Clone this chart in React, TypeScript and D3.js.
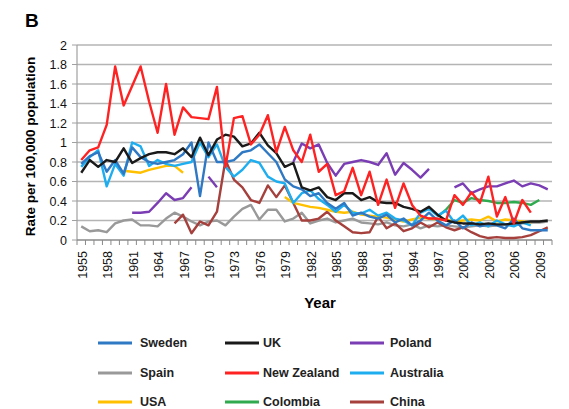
import { useEffect, useRef } from 'react';
import * as d3 from 'd3';

// one value per year, 1955..2010 (null = no data)
const years = d3.range(1955, 2011);
const xTickLabels = ['1955', '1958', '1961', '1964', '1967', '1970', '1973', '1976', '1979', '1982', '1985', '1988', '1991', '1994', '1997', '2000', '2003', '2006', '2009'];
const yTicks = [0, 0.2, 0.4, 0.6, 0.8, 1, 1.2, 1.4, 1.6, 1.8, 2];

const sweden = [
  0.78, 0.86, 0.9, 0.7, 0.82, 0.68, 0.95, 0.85, 0.8, 0.78,
  0.8, 0.82, 0.88, 1.0, 0.45, 1.0, 0.8, 0.8, 0.82, 0.9,
  0.92, 0.98, 0.89, 0.8, 0.62, 0.55, 0.52, 0.45, 0.48, 0.38,
  0.32, 0.38, 0.25, 0.28, 0.24, 0.22, 0.26, 0.18, 0.22, 0.15,
  0.2, 0.28, 0.2, 0.15, 0.2, 0.12, 0.18, 0.14, 0.16, 0.15,
  0.12, 0.22, 0.12, 0.1, 0.1, 0.1,
];
const uk = [
  0.69, 0.82, 0.75, 0.82, 0.8, 0.94, 0.79, 0.84, 0.88, 0.9,
  0.9, 0.88, 0.94, 0.85, 1.05, 0.87, 1.03, 1.08, 1.06, 0.96,
  0.99, 1.1, 0.97, 0.89, 0.75, 0.79, 0.54, 0.51, 0.54, 0.44,
  0.41, 0.48, 0.48, 0.41, 0.44, 0.39, 0.38, 0.38, 0.34, 0.32,
  0.29, 0.34, 0.26, 0.2, 0.18, 0.17, 0.17, 0.16, 0.17, 0.16,
  0.16, 0.17, 0.18, 0.19, 0.19, 0.2,
];
const poland = [
  null, null, null, null, null, null, 0.28, 0.28, 0.29, 0.38,
  0.48, 0.41, 0.43, 0.54, null, 0.65, 0.54, null, null, null,
  null, null, null, null, null, 0.8, 0.99, 0.94, 0.98, 0.79,
  0.66, 0.78, 0.8, 0.82, 0.8, 0.77, 0.89, 0.67, 0.79, 0.72,
  0.64, 0.73, null, null, 0.54, 0.58, 0.48, 0.52, 0.55, 0.55,
  0.58, 0.61, 0.55, 0.58, 0.56, 0.52,
];
const spain = [
  0.14, 0.09, 0.1, 0.08, 0.17, 0.2, 0.21, 0.15, 0.15, 0.14,
  0.22, 0.28, 0.24, 0.19, 0.15, 0.19, 0.2, 0.15, 0.24, 0.32,
  0.36, 0.21, 0.31, 0.31, 0.19, 0.22, 0.28, 0.17, 0.2, 0.22,
  0.18, 0.2, 0.22, 0.18, 0.17, 0.16, 0.18, 0.15, 0.14, 0.16,
  0.12, 0.15, 0.14, 0.15, 0.14, 0.13, 0.14, 0.15, 0.14, 0.15,
  0.16, 0.15, 0.17, 0.18, 0.18, 0.19,
];
const newZealand = [
  0.82, 0.92, 0.95, 1.18, 1.78, 1.38, 1.58, 1.78, 1.42, 1.1,
  1.6, 1.08, 1.36, 1.26, 1.25, 1.24, 1.57, 0.75, 1.25, 1.27,
  0.98, 1.08, 1.28, 0.9, 1.16, 0.92, 0.8, 1.08, 0.7, 0.78,
  0.46, 0.5, 0.74, 0.46, 0.7, 0.36, 0.62, 0.33, 0.58, 0.36,
  0.25, 0.22, 0.22, 0.2, 0.46, 0.36, 0.49, 0.38, 0.65, 0.24,
  0.44, 0.17, 0.41, 0.28, null, null,
];
const australia = [
  0.75, 0.85, 0.92, 0.55, 0.78, 0.66, 1.0, 0.96, 0.76, 0.82,
  0.78, 0.76, 0.78, 0.8, 1.0, 0.85, 0.98, 0.75, 0.65, 0.72,
  0.82, 0.79, 0.65, 0.6, 0.58, 0.38, 0.48, 0.51, 0.42, 0.36,
  0.29, 0.36, 0.28, 0.27, 0.31, 0.25, 0.28, 0.22, 0.2, 0.15,
  0.28, 0.32, 0.25, 0.3, 0.18, 0.25, 0.15, 0.18, 0.14, 0.2,
  0.16, 0.14, 0.18, 0.15, null, null,
];
const usa = [
  null, null, null, null, null, 0.71, 0.7, 0.69, 0.72, 0.74,
  0.76, 0.76, 0.69, null, null, null, null, null, null, null,
  null, null, null, null, 0.44, 0.38, 0.36, 0.34, 0.33, 0.31,
  0.29, 0.28, 0.29, 0.26, 0.25, 0.24, 0.23, 0.21, 0.19, 0.21,
  0.23, 0.22, 0.21, 0.21, 0.19, 0.2, 0.21, 0.2, 0.24, 0.19,
  0.21, 0.2, 0.19, 0.18, null, null,
];
const colombia = [
  null, null, null, null, null, null, null, null, null, null,
  null, null, null, null, null, null, null, null, null, null,
  null, null, null, null, null, null, null, null, null, null,
  null, null, null, null, null, null, null, null, null, null,
  null, null, 0.24, 0.31, 0.41, 0.38, 0.43, 0.41, 0.4, 0.38,
  0.38, 0.39, 0.38, 0.36, 0.41, null,
];
const china = [
  null, null, null, null, null, null, null, null, null, null,
  null, 0.17, 0.26, 0.07, 0.19, 0.15, 0.29, 0.82, 0.62, 0.54,
  0.41, 0.38, 0.56, 0.44, 0.56, 0.38, 0.2, 0.2, 0.22, 0.29,
  0.2, 0.14, 0.08, 0.07, 0.08, 0.24, 0.12, 0.17, 0.09, 0.12,
  0.18, 0.13, 0.18, 0.13, 0.1, 0.13, 0.08, 0.04, 0.02, 0.03,
  0.02, 0.02, 0.03, 0.05, 0.09, 0.13,
];

const seriesNames = ['Sweden', 'UK', 'Poland', 'Spain', 'New Zealand', 'Australia', 'USA', 'Colombia', 'China'];
const seriesColors = ['#2f78c4', '#1a1a1a', '#7a3db3', '#999999', '#ff2222', '#1eaef0', '#ffc000', '#2faa4f', '#a5403d'];
const seriesValues = [sweden, uk, poland, spain, newZealand, australia, usa, colombia, china];
// draw order (back to front)
const drawOrder = ['Spain', 'China', 'USA', 'Colombia', 'Poland', 'Australia', 'Sweden', 'UK', 'New Zealand'];

export default function App() {
  const svgRef = useRef<SVGSVGElement>(null);

  useEffect(() => {
    if (!svgRef.current) return;
    document.body.style.margin = '0';

    const width = 569;
    const height = 409;
    const margin = { top: 45, right: 17, bottom: 169, left: 77 };
    const font = '"Liberation Sans", Arial, sans-serif';

    d3.select(svgRef.current).selectAll('*').remove();
    const svg = d3
      .select(svgRef.current)
      .attr('width', width)
      .attr('height', height)
      .style('font-family', font);

    svg.append('rect').attr('width', width).attr('height', height).attr('fill', '#fff');

    const x = d3
      .scaleBand<number>()
      .domain(years)
      .range([margin.left, width - margin.right]);
    const cx = (yr: number) => (x(yr) as number) + x.bandwidth() / 2;

    const y = d3
      .scaleLinear()
      .domain([0, 2])
      .range([height - margin.bottom, margin.top]);

    // gridlines
    svg
      .append('g')
      .selectAll('line')
      .data(yTicks.filter((t) => t > 0))
      .enter()
      .append('line')
      .attr('x1', margin.left)
      .attr('x2', width - margin.right)
      .attr('y1', (d) => y(d))
      .attr('y2', (d) => y(d))
      .attr('stroke', '#b4b4b4')
      .attr('stroke-width', 1.6);

    // y axis
    const yAxis = svg.append('g');
    yAxis
      .append('line')
      .attr('x1', margin.left)
      .attr('x2', margin.left)
      .attr('y1', y(2))
      .attr('y2', y(0))
      .attr('stroke', '#a0a0a0')
      .attr('stroke-width', 1.2);
    yAxis
      .selectAll('line.tick')
      .data(yTicks)
      .enter()
      .append('line')
      .attr('class', 'tick')
      .attr('x1', margin.left - 5)
      .attr('x2', margin.left)
      .attr('y1', (d) => y(d))
      .attr('y2', (d) => y(d))
      .attr('stroke', '#a0a0a0');
    yAxis
      .selectAll('text')
      .data(yTicks)
      .enter()
      .append('text')
      .attr('x', margin.left - 10)
      .attr('y', (d) => y(d))
      .attr('dy', '0.36em')
      .attr('text-anchor', 'end')
      .attr('font-size', '12.5px')
      .attr('fill', '#111')
      .text((d) => d3.format('~g')(d));

    // x axis
    const xAxis = svg.append('g');
    xAxis
      .append('line')
      .attr('x1', margin.left)
      .attr('x2', width - margin.right)
      .attr('y1', y(0))
      .attr('y2', y(0))
      .attr('stroke', '#8a8a8a')
      .attr('stroke-width', 1.4);
    xAxis
      .selectAll('line.tick')
      .data([...years, 2011])
      .enter()
      .append('line')
      .attr('class', 'tick')
      .attr('x1', (d) => (d === 2011 ? width - margin.right : (x(d) as number)))
      .attr('x2', (d) => (d === 2011 ? width - margin.right : (x(d) as number)))
      .attr('y1', y(0))
      .attr('y2', y(0) + 5)
      .attr('stroke', '#8a8a8a');
    xAxis
      .selectAll('text')
      .data(xTickLabels)
      .enter()
      .append('text')
      .attr('transform', (d) => `translate(${cx(+d) + 5.5},${y(0) + 11}) rotate(-90)`)
      .attr('text-anchor', 'end')
      .attr('font-size', '12.5px')
      .attr('fill', '#111')
      .text((d) => d);

    // lines
    const line = d3
      .line<number | null>()
      .defined((d) => d != null)
      .x((_, i) => cx(years[i]))
      .y((d) => y(d as number));

    drawOrder.forEach((name) => {
      const i = seriesNames.indexOf(name);
      svg
        .append('path')
        .datum(seriesValues[i])
        .attr('d', line)
        .attr('fill', 'none')
        .attr('stroke', seriesColors[i])
        .attr('stroke-width', 2.4)
        .attr('stroke-linejoin', 'round');
    });

    // titles
    svg
      .append('text')
      .attr('x', 25)
      .attr('y', 27)
      .attr('font-size', '19px')
      .attr('font-weight', 'bold')
      .text('B');

    svg
      .append('text')
      .attr('transform', `translate(35,${(y(0) + y(2)) / 2 + 4}) rotate(-90)`)
      .attr('text-anchor', 'middle')
      .attr('font-size', '13.5px')
      .attr('font-weight', 'bold')
      .text('Rate per 100,000 population');

    svg
      .append('text')
      .attr('x', 320)
      .attr('y', 308)
      .attr('text-anchor', 'middle')
      .attr('font-size', '15px')
      .attr('font-weight', 'bold')
      .text('Year');

    // legend, 3 columns
    const legCols = [98, 225, 350];
    const legRows = [343, 373, 402];
    const legend = svg
      .selectAll('g.leg')
      .data(seriesNames)
      .enter()
      .append('g')
      .attr('class', 'leg')
      .attr('transform', (_, i) => `translate(${legCols[i % 3]},${legRows[Math.floor(i / 3)]})`);
    legend
      .append('line')
      .attr('x1', 0)
      .attr('x2', 34)
      .attr('stroke', (_, i) => seriesColors[i])
      .attr('stroke-width', 3);
    legend
      .append('text')
      .attr('x', (_, i) => (i % 3 === 0 ? 42 : i % 3 === 1 ? 38 : 40))
      .attr('dy', '0.35em')
      .attr('font-size', '12.5px')
      .attr('font-weight', 'bold')
      .attr('fill', '#222')
      .text((d) => d);
  }, []);

  return <svg ref={svgRef} style={{ display: 'block' }} />;
}
